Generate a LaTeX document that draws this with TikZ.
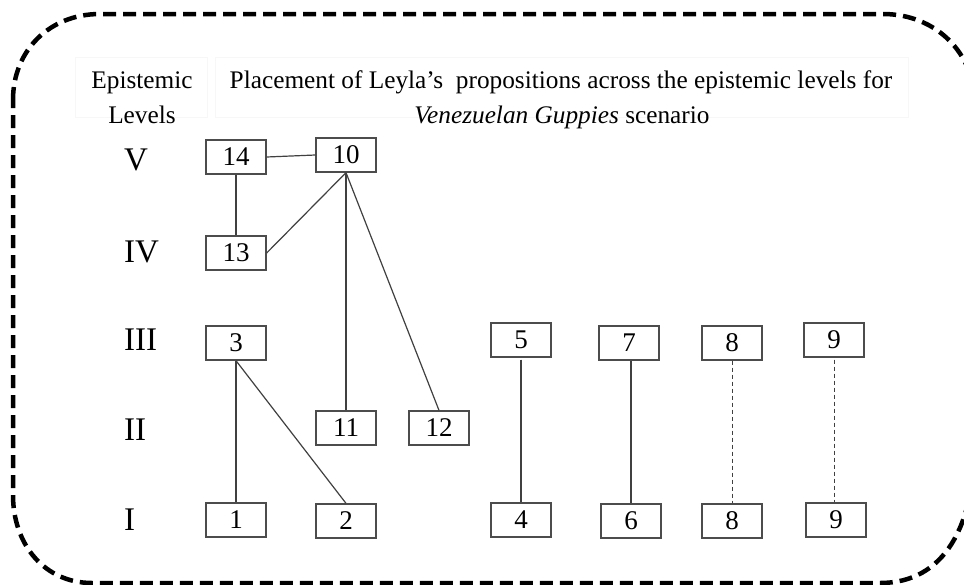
\documentclass[tikz,border=0pt]{standalone}
\usepackage{fontspec}
\setmainfont{Liberation Serif}
\begin{document}
\begin{tikzpicture}[x=1pt,y=-1pt,
  box/.style={draw=black!70, line width=1.3pt, minimum width=60pt, minimum height=34pt, inner sep=0pt, font=\fontsize{27}{27}\selectfont},
  link/.style={draw=black!75, line width=1.2pt},
  dlink/.style={draw=black!75, line width=1pt, dash pattern=on 4pt off 3pt},
  lvl/.style={anchor=west, inner sep=0pt, font=\fontsize{33}{33}\selectfont},
  head/.style={anchor=base, inner sep=0pt, font=\fontsize{25.3}{25}\selectfont},
  frame/.style={line width=4.5pt, dash pattern=on 13pt off 7pt}]
\useasboundingbox (0,0) rectangle (964,584);
\fill[white] (0,0) rectangle (964,584);
% outer dashed frame
\draw[frame] (13,100) .. controls (13,50) and (50,14) .. (100,14) -- (883,14)
  .. controls (935,14) and (975,52) .. (975,105) -- (975,440)
  .. controls (975,525) and (945,583) .. (880,583) -- (92,583)
  .. controls (45,583) and (13,545) .. (13,495) -- cycle;
% faint header cells
\draw[black!3, line width=1pt] (75,57) rectangle (207,117);
\draw[black!3, line width=1pt] (215,57) rectangle (908,117);
% header text
\node[head] (ep1) at (142,88) {Epistemic};
\node[head] (ep2) at (142,123) {Levels};
\node[head] (t1) at (561,88) {Placement of Leyla’s\ \ propositions across the epistemic levels for};
\node[head] (t2) at (562,123) {\textit{Venezuelan Guppies} scenario};
% level labels
\node[lvl] (LV) at (124,160) {V};
\node[lvl] (LIV) at (124,252) {IV};
\node[lvl] (LIII) at (124,340) {III};
\node[lvl] (LII) at (124,430) {II};
\node[lvl] (LI) at (124,520) {I};
% boxes
\node[box] (n14) at (236,157) {14};
\node[box] (n10) at (346,155) {10};
\node[box] (n13) at (236,253) {13};
\node[box] (n3) at (236,343) {3};
\node[box] (n11) at (346,428) {11};
\node[box] (n12) at (439,428) {12};
\node[box] (n1) at (236,520) {1};
\node[box] (n2) at (346,521) {2};
\node[box] (n5) at (521,340) {5};
\node[box] (n7) at (629,343) {7};
\node[box] (n8a) at (732,343) {8};
\node[box] (n9a) at (834,340) {9};
\node[box] (n4) at (521,520) {4};
\node[box] (n6) at (631,521) {6};
\node[box] (n8b) at (732,521) {8};
\node[box] (n9b) at (836,520) {9};
% connectors
\draw[link] (n14.east) -- (n10.west);
\draw[link] (n14.south) -- (n13.north);
\draw[link] (n13.east) -- (n10.south);
\draw[link] (n10.south) -- (n11.north);
\draw[link] (n10.south) -- (n12.north);
\draw[link] (n3.south) -- (n1.north);
\draw[link] (n3.south) -- (n2.north);
\draw[link] ([yshift=-2pt]n5.south) -- (n4.north);
\draw[link] ([xshift=2pt]n7.south) -- ([xshift=0pt]n6.north);
\draw[dlink] (n8a.south) -- (n8b.north);
\draw[dlink] ([yshift=-2pt]n9a.south) -- ([xshift=-2pt]n9b.north);
\end{tikzpicture}
\end{document}
